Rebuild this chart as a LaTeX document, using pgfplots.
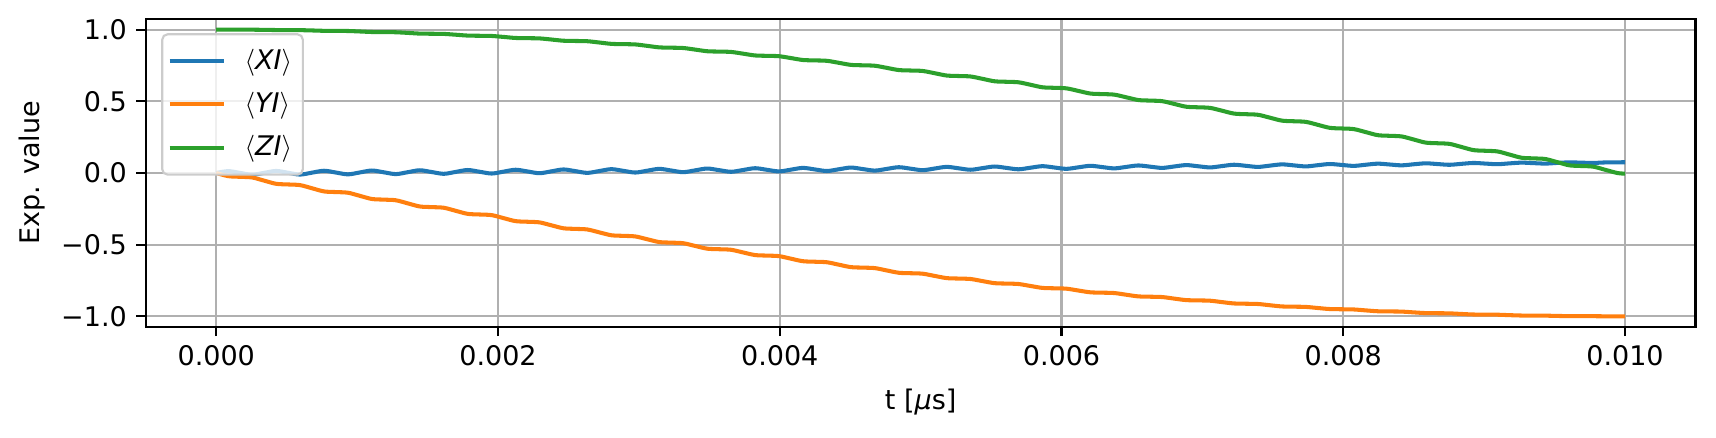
\documentclass[border=0pt]{standalone}
\usepackage{fontspec}
\setmainfont{DejaVu Sans}
\usepackage{pgfplots}
\usepackage{pgfplotstable}
\pgfplotsset{compat=1.18}
\definecolor{cA}{HTML}{1F77B4}
\definecolor{cB}{HTML}{FF7F0E}
\definecolor{cC}{HTML}{2CA02C}
\definecolor{gridgray}{HTML}{B0B0B0}
\definecolor{legframe}{HTML}{CCCCCC}

\pgfplotstableread{
t X Y Z
0 0 0 1
0.000085 0.01315 -0.02208 0.99976
0.00017 0.00038 -0.02670 0.99964
0.000255 -0.01236 -0.03132 0.99951
0.00034 0.00093 -0.05338 0.99857
0.000425 0.01424 -0.07541 0.99715
0.00051 0.00160 -0.08003 0.99679
0.000595 -0.01104 -0.08464 0.99641
0.00068 0.00228 -0.10661 0.99430
0.000765 0.01563 -0.12854 0.99170
0.00085 0.00307 -0.13312 0.99110
0.000935 -0.00947 -0.13770 0.99047
0.00102 0.00386 -0.15954 0.98719
0.001105 0.01719 -0.18129 0.98343
0.00119 0.00474 -0.18584 0.98258
0.001275 -0.00771 -0.19038 0.98171
0.00136 0.00561 -0.21201 0.97727
0.001445 0.01890 -0.23353 0.97235
0.00153 0.00655 -0.23803 0.97126
0.001615 -0.00578 -0.24251 0.97015
0.0017 0.00749 -0.26387 0.96456
0.001785 0.02072 -0.28510 0.95850
0.00187 0.00850 -0.28953 0.95717
0.001955 -0.00371 -0.29396 0.95582
0.00204 0.00950 -0.31499 0.94910
0.002125 0.02265 -0.33586 0.94191
0.00221 0.01055 -0.34022 0.94035
0.002295 -0.00152 -0.34456 0.93877
0.00238 0.01160 -0.36520 0.93093
0.002465 0.02464 -0.38566 0.92264
0.00255 0.01270 -0.38993 0.92085
0.002635 0.00079 -0.39418 0.91903
0.00272 0.01380 -0.41438 0.91011
0.002805 0.02671 -0.43437 0.90074
0.00289 0.01495 -0.43853 0.89872
0.002975 0.00321 -0.44268 0.89668
0.00306 0.01609 -0.46237 0.88669
0.003145 0.02885 -0.48183 0.87627
0.00323 0.01727 -0.48588 0.87403
0.003315 0.00572 -0.48992 0.87177
0.0034 0.01845 -0.50904 0.86074
0.003485 0.03104 -0.52792 0.84929
0.00357 0.01967 -0.53184 0.84684
0.003655 0.00832 -0.53575 0.84437
0.00374 0.02088 -0.55427 0.83234
0.003825 0.03328 -0.57250 0.81990
0.00391 0.02213 -0.57629 0.81725
0.003995 0.01103 -0.58006 0.81457
0.00408 0.02338 -0.59790 0.80157
0.004165 0.03556 -0.61545 0.78817
0.00425 0.02467 -0.61909 0.78532
0.004335 0.01381 -0.62272 0.78245
0.00442 0.02595 -0.63984 0.76851
0.004505 0.03790 -0.65665 0.75419
0.00459 0.02726 -0.66013 0.75115
0.004675 0.01668 -0.66360 0.74809
0.00476 0.02857 -0.67996 0.73326
0.004845 0.04026 -0.69598 0.71807
0.00493 0.02991 -0.69929 0.71484
0.005015 0.01961 -0.70259 0.71160
0.0051 0.03125 -0.71813 0.69591
0.005185 0.04266 -0.73332 0.67989
0.00527 0.03262 -0.73645 0.67649
0.005355 0.02264 -0.73957 0.67308
0.00544 0.03399 -0.75425 0.65659
0.005525 0.04509 -0.76856 0.63978
0.00561 0.03538 -0.77151 0.63621
0.005695 0.02574 -0.77445 0.63264
0.00578 0.03677 -0.78823 0.61539
0.005865 0.04753 -0.80162 0.59784
0.00595 0.03819 -0.80438 0.59412
0.006035 0.02891 -0.80711 0.59040
0.00612 0.03961 -0.81995 0.57243
0.006205 0.05001 -0.83239 0.55419
0.00629 0.04105 -0.83494 0.55033
0.006375 0.03216 -0.83748 0.54647
0.00646 0.04249 -0.84934 0.52785
0.006545 0.05250 -0.86079 0.50897
0.00663 0.04396 -0.86313 0.50498
0.006715 0.03550 -0.86546 0.50098
0.0068 0.04543 -0.87631 0.48175
0.006885 0.05501 -0.88673 0.46229
0.00697 0.04692 -0.88886 0.45819
0.007055 0.03890 -0.89097 0.45407
0.00714 0.04840 -0.90078 0.43429
0.007225 0.05753 -0.91014 0.41430
0.00731 0.04991 -0.91205 0.41008
0.007395 0.04239 -0.91394 0.40586
0.00748 0.05142 -0.92267 0.38558
0.007565 0.06005 -0.93096 0.36512
0.00765 0.05295 -0.93264 0.36081
0.007735 0.04596 -0.93430 0.35649
0.00782 0.05448 -0.94194 0.33578
0.007905 0.06256 -0.94912 0.31490
0.00799 0.05603 -0.95057 0.31051
0.008075 0.04962 -0.95200 0.30611
0.00816 0.05758 -0.95852 0.28502
0.008245 0.06505 -0.96458 0.26379
0.00833 0.05915 -0.96579 0.25933
0.008415 0.05338 -0.96698 0.25486
0.0085 0.06072 -0.97237 0.23345
0.008585 0.06749 -0.97729 0.21192
0.00867 0.06231 -0.97826 0.20740
0.008755 0.05724 -0.97921 0.20287
0.00884 0.06389 -0.98345 0.18121
0.008925 0.06988 -0.98721 0.15945
0.00901 0.06550 -0.98793 0.15488
0.009095 0.06126 -0.98864 0.15031
0.00918 0.06711 -0.99172 0.12845
0.009265 0.07216 -0.99431 0.10653
0.00935 0.06873 -0.99479 0.10192
0.009435 0.06549 -0.99525 0.09732
0.00952 0.07036 -0.99716 0.07533
0.009605 0.07418 -0.99858 0.05330
0.00969 0.07200 -0.99882 0.04868
0.009775 0.07009 -0.99903 0.04406
0.00986 0.07364 -0.99976 0.02199
0.009945 0.07446 -1.00000 -0.00009
0.01 0.07500 -0.99999 -0.00463
}\data

\begin{document}
\begin{tikzpicture}
\path[use as bounding box] (-54pt,-41.2pt) rectangle (581.6pt,121pt);
\begin{axis}[
  scale only axis,
  width=574pt, height=114pt,
  xmin=-0.0005, xmax=0.0105,
  ymin=-1.072, ymax=1.075,
  xtick={0,0.002,0.004,0.006,0.008,0.01},
  xticklabels={0.000,0.002,0.004,0.006,0.008,0.010},
  ytick={-1,-0.5,0,0.5,1},
  yticklabels={−1.0,−0.5,0.0,0.5,1.0},
  scaled x ticks=false,
  scaled y ticks=false,
  xtick pos=left,
  ytick pos=left,
  tick align=outside,
  major tick length=3.5pt,
  tick style={black, line width=0.8pt},
  axis line style={line width=0.8pt},
  grid=major,
  major grid style={color=gridgray, line width=0.8pt},
  tick label style={font=\fontsize{10}{12}\selectfont},
  label style={font=\fontsize{10}{12}\selectfont},
  xlabel={t [\textit{μ}s]},
  ylabel={Exp. value},
  x label style={at={(axis description cs:0.5,-0.2456)}, anchor=center},
  y label style={at={(axis description cs:-0.0735,0.5)}, anchor=center},
  legend cell align=left,
  legend style={at={(0,1)}, anchor=north west, xshift=5.7pt, yshift=-5.3pt,
    draw=legframe, line width=0.8pt, fill=white, fill opacity=0.8, text opacity=1,
    rounded corners=2pt, font=\fontsize{10}{12}\selectfont,
    row sep=3pt, inner xsep=2pt, inner ysep=3.5pt,
    /tikz/every odd column/.append style={column sep=5pt}},
  legend image code/.code={\draw[#1, line width=1.5pt] (0pt,0pt) -- (20pt,0pt);},
]
\addplot[cA, line width=1.5pt, smooth] table[x=t, y=X] {\data};
\addlegendentry{$\langle$\textit{XI}$\rangle$}
\addplot[cB, line width=1.5pt, smooth] table[x=t, y=Y] {\data};
\addlegendentry{$\langle$\textit{YI}$\rangle$}
\addplot[cC, line width=1.5pt, smooth] table[x=t, y=Z] {\data};
\addlegendentry{$\langle$\textit{ZI}$\rangle$}
\end{axis}
\end{tikzpicture}
\end{document}
